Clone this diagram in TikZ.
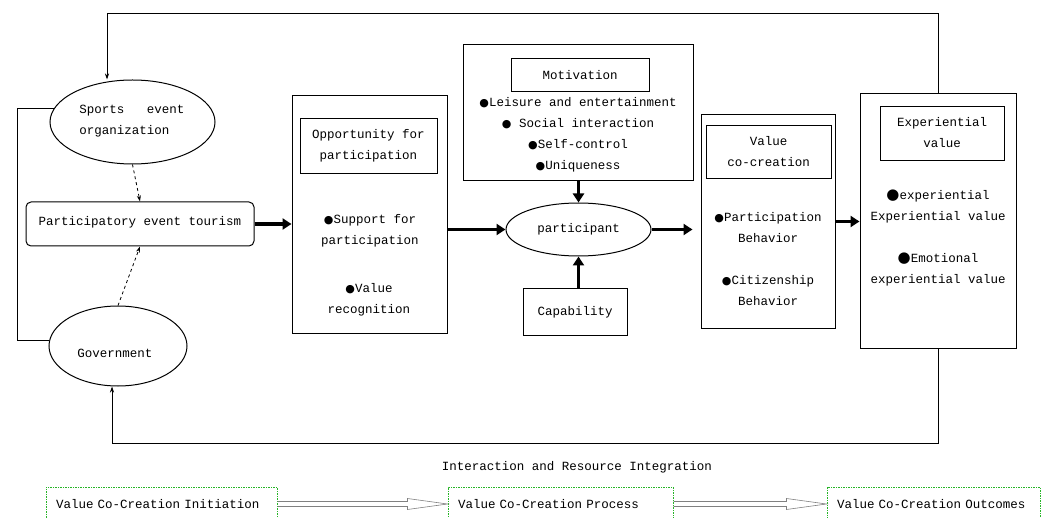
\documentclass[tikz,border=0pt]{standalone}
\usepackage{fontspec}
\setmainfont{Liberation Mono}
\newfontfamily\dvs{DejaVu Sans}
\usetikzlibrary{arrows.meta,calc,shapes.geometric}
\newcommand\bul{{\dvs\fontsize{11pt}{11pt}\selectfont●}}
\newcommand\bigbul{{\dvs\fontsize{15pt}{15pt}\selectfont●}}
\definecolor{txt}{RGB}{0,0,0}
\definecolor{dotgreen}{RGB}{40,180,40}
\tikzset{
  bx/.style={draw, line width=1pt, rectangle, inner sep=0pt},
  ell/.style={draw, line width=1pt, ellipse, inner sep=0pt},
  lbl/.style={align=center, text=txt, inner sep=0pt},
  thickarr/.style={line width=3.6pt, -{Triangle[length=9pt,width=11pt]}},
  fb/.style={line width=0.8pt, -{Stealth[length=6pt,width=4pt]}},
  dasharr/.style={dashed, line width=0.8pt, -{Stealth[length=6pt,width=4pt]}},
  gbox/.style={draw=dotgreen, dash pattern=on 1.5pt off 1pt, line width=1pt, minimum height=34pt, align=left, inner xsep=10pt, text=txt},
  harrow/.style={draw=gray, line width=0.6pt},
}
\begin{document}
\begin{tikzpicture}[x=1pt,y=-1pt,font=\fontsize{12.5pt}{21pt}\selectfont]
\useasboundingbox (0,0) rectangle (1043,518);
% left column
\node[ell, minimum width=165pt, minimum height=84pt] (sports) at (132.5,122) {};
\node[lbl, align=left] (sportst) at (132,121) {Sports\ \ \ event\\organization};
\node[bx, rounded corners=5pt, minimum width=228pt, minimum height=44pt] (part) at (140,224) {};
\node[lbl] (partt) at (140,222) {Participatory event tourism};
\node[ell, minimum width=138pt, minimum height=80pt] (gov) at (118,346) {};
\node[lbl] (govt) at (115,353) {Government};
% opportunity
\node[bx, minimum width=155pt, minimum height=237pt] (opp) at (369.5,214.5) {};
\node[bx, minimum width=137pt, minimum height=55pt] (oppi) at (368.5,146.5) {};
\node[lbl] (oppit) at (368.5,145.5) {Opportunity for\\participation};
\node[lbl] (supp) at (370,231) {\bul Support for\\participation};
\node[lbl] (valr) at (369,300) {\bul Value\\recognition};
% motivation
\node[bx, minimum width=230pt, minimum height=136pt] (mot) at (578,113) {};
\node[bx, minimum width=138pt, minimum height=33pt, text=txt] (moti) at (580,75.5) {Motivation};
\node[lbl] (motl) at (578,135) {\bul Leisure and entertainment\\\bul\ Social interaction\\\bul Self-control\\\bul Uniqueness};
% participant
\node[ell, minimum width=145pt, minimum height=53pt, text=txt] (pp) at (578.5,229.5) {participant};
\node[bx, minimum width=104pt, minimum height=47pt, text=txt] (cap) at (575,312) {Capability};
% value co-creation
\node[bx, minimum width=134pt, minimum height=213pt] (val) at (768,221.5) {};
\node[bx, minimum width=125pt, minimum height=53pt] (vali) at (768.5,152.5) {};
\node[lbl] (valit) at (768.5,152) {Value\\co-creation};
\node[lbl] (pb) at (768,227.5) {\bul Participation\\Behavior};
\node[lbl] (cb) at (768,290.5) {\bul Citizenship\\Behavior};
% experiential value
\node[bx, minimum width=156pt, minimum height=254pt] (exp) at (938,221) {};
\node[bx, minimum width=124pt, minimum height=54pt] (expi) at (942,134) {};
\node[lbl] (expit) at (942,133) {Experiential\\value};
\node[lbl] (ev1) at (938,206) {\bigbul experiential\\Experiential value};
\node[lbl] (ev2) at (938,269) {\bigbul Emotional\\experiential value};
% connectors
\coordinate (tl) at (107,13);
\coordinate (bl) at (112,443);
\coordinate (lb) at (17,0);
\draw[fb] (exp.north) |- (tl) -- (tl |- sports.north);
\draw[fb] (exp.south) |- (bl) -- (bl |- gov.south);
\draw[line width=0.8pt] (sports.170) -- (sports.170 -| lb) |- (gov.175);
\draw[dasharr] (sports.south) -- (part.north);
\draw[dasharr] (gov.north) -- (part.south);
\draw[thickarr] (part.east) -- (part.east -| opp.west);
\draw[thickarr] (opp.east |- pp.west) -- (pp.west);
\draw[thickarr] (pp.north |- mot.south) -- (pp.north);
\draw[thickarr] (pp.south |- cap.north) -- (pp.south);
\draw[thickarr, shorten >=8pt] (pp.east) -- (pp.east -| val.west);
\draw[thickarr] (val.east) -- (val.east -| exp.west);
% bottom legend
\node[lbl] (inter) at (577,467) {Interaction and Resource Integration};
\node[gbox, text width=211pt] (b1) at (161.5,504) {Value Co-Creation Initiation};
\node[gbox, text width=205pt] (b2) at (560.5,504) {Value Co-Creation Process};
\node[gbox, text width=193pt] (b3) at (933.5,504) {Value Co-Creation Outcomes};
\draw[harrow] ($(b1.east)+(0,-2.5)$) -- ($(b2.west)+(-40,-2.5)$) -- ($(b2.west)+(-40,-5.5)$) -- (b2.west) -- ($(b2.west)+(-40,5.5)$) -- ($(b2.west)+(-40,2.5)$) -- ($(b1.east)+(0,2.5)$);
\draw[harrow] ($(b2.east)+(0,-2.5)$) -- ($(b3.west)+(-40,-2.5)$) -- ($(b3.west)+(-40,-5.5)$) -- (b3.west) -- ($(b3.west)+(-40,5.5)$) -- ($(b3.west)+(-40,2.5)$) -- ($(b2.east)+(0,2.5)$);
\end{tikzpicture}
\end{document}
